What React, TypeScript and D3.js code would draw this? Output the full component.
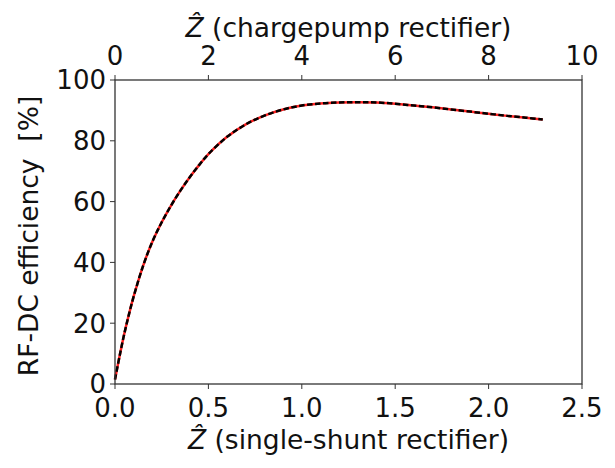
import React from "react";
import * as d3 from "d3";

// efficiency curve (x in single-shunt Z units)
const zHat = [
  0, 0.025, 0.05, 0.075, 0.1, 0.15, 0.2, 0.25, 0.3, 0.35, 0.4, 0.45, 0.5,
  0.6, 0.7, 0.8, 0.9, 1.0, 1.1, 1.2, 1.3, 1.4, 1.5, 1.6, 1.7, 1.8, 1.9, 2.0,
  2.1, 2.2, 2.29,
];
const efficiency = [
  1.5, 9.3, 16.6, 23, 28.8, 38.8, 46.8, 53.2, 58.7, 63.6, 68, 72, 75.6,
  81.3, 85.4, 88.3, 90.3, 91.6, 92.3, 92.6, 92.7, 92.6, 92.2, 91.6, 91, 90.3,
  89.6, 88.9, 88.2, 87.6, 87,
];
const bottomTicks = [0, 0.5, 1.0, 1.5, 2.0, 2.5];
const topTicks = [0, 2, 4, 6, 8, 10];
const yTicks = [0, 20, 40, 60, 80, 100];

const width = 615;
const height = 468;
const margin = { left: 115, right: 33, top: 80, bottom: 84 };

const App = () => {
  const x = d3
    .scaleLinear()
    .domain([0, 2.5])
    .range([margin.left, width - margin.right]);
  const xTop = d3
    .scaleLinear()
    .domain([0, 10])
    .range([margin.left, width - margin.right]);
  const y = d3
    .scaleLinear()
    .domain([0, 100])
    .range([height - margin.bottom, margin.top]);

  const pts = zHat.map((z, i) => [z, efficiency[i]]);
  const line = d3
    .line()
    .x((d) => x(d[0]))
    .y((d) => y(d[1]))
    .curve(d3.curveCatmullRom);

  const x0 = margin.left;
  const x1 = width - margin.right;
  const y0 = height - margin.bottom;
  const y1 = margin.top;
  const tick = 5;
  const axisColor = "#333";
  const tickSize = 26;
  const labelSize = 26.5;

  return (
    <svg
      width={width}
      height={height}
      style={{ position: "absolute", left: 0, top: 0 }}
      fontFamily="DejaVu Sans"
    >
      <rect x={0} y={0} width={width} height={height} fill="white" />

      {/* curve: solid red with black dashes on top */}
      <path d={line(pts)} fill="none" stroke="#ff2020" strokeWidth={2.5} />
      <path
        d={line(pts)}
        fill="none"
        stroke="black"
        strokeWidth={2.5}
        strokeDasharray="5.5,2.5"
      />

      {/* frame */}
      <rect
        x={x0}
        y={y1}
        width={x1 - x0}
        height={y0 - y1}
        fill="none"
        stroke={axisColor}
        strokeWidth={1.3}
      />

      {/* left axis */}
      {yTicks.map((t) => (
        <g key={"y" + t}>
          <line x1={x0 - tick} x2={x0} y1={y(t)} y2={y(t)} stroke={axisColor} />
          <text
            x={x0 - tick - 4}
            y={y(t)}
            dy="0.36em"
            textAnchor="end"
            fontSize={tickSize}
            fill="#111"
          >
            {t}
          </text>
        </g>
      ))}

      {/* bottom axis */}
      {bottomTicks.map((t) => (
        <g key={"b" + t}>
          <line x1={x(t)} x2={x(t)} y1={y0} y2={y0 + tick} stroke={axisColor} />
          <text
            x={x(t)}
            y={417}
            textAnchor="middle"
            fontSize={tickSize}
            fill="#111"
          >
            {d3.format(".1f")(t)}
          </text>
        </g>
      ))}

      {/* top axis */}
      {topTicks.map((t) => (
        <g key={"t" + t}>
          <line
            x1={xTop(t)}
            x2={xTop(t)}
            y1={y1}
            y2={y1 - tick}
            stroke={axisColor}
          />
          <text
            x={xTop(t)}
            y={65}
            textAnchor="middle"
            fontSize={tickSize}
            fill="#111"
          >
            {t}
          </text>
        </g>
      ))}

      {/* axis titles */}
      <text
        x={(x0 + x1) / 2}
        y={449}
        textAnchor="middle"
        fontSize={labelSize}
        fill="#111"
      >
        <tspan fontStyle="italic">Ẑ</tspan> (single-shunt rectifier)
      </text>
      <text
        x={(x0 + x1) / 2}
        y={37}
        textAnchor="middle"
        fontSize={labelSize}
        fill="#111"
      >
        <tspan fontStyle="italic">Ẑ</tspan> (chargepump rectifier)
      </text>
      <text
        transform="translate(38, 236) rotate(-90)"
        textAnchor="middle"
        fontSize={labelSize}
        fill="#111"
        style={{ whiteSpace: "pre" }}
      >
        {"RF-DC efficiency  [%]"}
      </text>
    </svg>
  );
};

export default App;
